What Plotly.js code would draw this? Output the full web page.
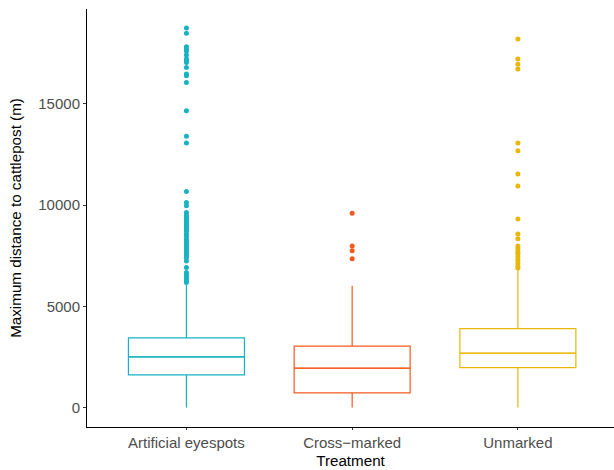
<!DOCTYPE html>
<html><head><meta charset="utf-8">
<script src="https://cdn.plot.ly/plotly-3.0.1.min.js"></script>
<style>html,body{margin:0;padding:0;background:#fff}#chart{width:614px;height:470px}</style>
</head><body><div id="chart"></div>
<script>
const categories = ["Artificial eyespots", "Cross\u2212marked", "Unmarked"];
const colors = ["#17B3C3", "#F7581E", "#E9B709"];
const q1 = [1628, 740, 1990];
const medians = [2516, 1958, 2700];
const q3 = [3453, 3044, 3912];
const lowerFence = [20, 20, 20];
const upperFence = [6100, 6020, 6820];
const outliersEyespots = [18730, 18470, 17810, 17700, 17600, 17400, 17210, 17100, 17030, 16790, 16460, 16380, 16050, 14650, 13400, 13060, 10670, 10130, 9970, 9640, 9500, 9400, 9300, 9200, 9100, 9000, 8900, 8800, 8730, 8580, 8450, 8300, 8200, 8100, 8000, 7900, 7800, 7700, 7600, 7500, 7400, 7250, 6920, 6680, 6550, 6420, 6300, 6180];
const outliersCross = [9600, 7990, 7750, 7350];
const outliersUnmarked = [18190, 17200, 16950, 16710, 13060, 12680, 11540, 10940, 9310, 8570, 8340, 7990, 7850, 7700, 7600, 7450, 7300, 7150, 7000, 6900];
const yTicks = [0, 5000, 10000, 15000];

const outliers = [outliersEyespots, outliersCross, outliersUnmarked];
const traces = [];
categories.forEach((c, i) => {
  traces.push({
    type: "box", x: [c], q1: [q1[i]], median: [medians[i]], q3: [q3[i]],
    lowerfence: [lowerFence[i]], upperfence: [upperFence[i]],
    boxpoints: false, whiskerwidth: 0, width: 0.7,
    line: {color: colors[i], width: 1.2}, fillcolor: "rgba(255,255,255,0)",
    hoverinfo: "skip", showlegend: false
  });
  // thicker median line (ggplot fatten)
  traces.push({
    type: "box", x: [c], q1: [medians[i]], median: [medians[i]], q3: [medians[i]],
    lowerfence: [medians[i]], upperfence: [medians[i]],
    boxpoints: false, whiskerwidth: 0, width: 0.7,
    line: {color: colors[i], width: 1.1}, fillcolor: "rgba(255,255,255,0)",
    hoverinfo: "skip", showlegend: false
  });
  traces.push({
    type: "scatter", mode: "markers", x: outliers[i].map(() => c), y: outliers[i],
    marker: {color: colors[i], size: 5}, showlegend: false, hoverinfo: "skip"
  });
});

const layout = {
  width: 614, height: 470,
  margin: {l: 87, r: 0, t: 9, b: 43},
  paper_bgcolor: "#fff", plot_bgcolor: "#fff",
  font: {family: "Liberation Sans, Arial, sans-serif", size: 15, color: "#000"},
  showlegend: false, boxmode: "overlay",
  xaxis: {
    type: "category", categoryarray: categories, range: [-0.6, 2.58],
    showgrid: false, zeroline: false, showline: true, linecolor: "#000", linewidth: 1,
    ticks: "outside", ticklen: 2, tickcolor: "#333", tickwidth: 1,
    tickfont: {size: 15, color: "#4D4D4D"},
    title: {text: "Treatment", font: {size: 15.2, color: "#000"}, standoff: 5}
  },
  yaxis: {
    range: [-940, 19670], tickvals: yTicks, ticktext: yTicks.map(String),
    showgrid: false, zeroline: false, showline: true, linecolor: "#000", linewidth: 1,
    ticks: "outside", ticklen: 3, tickcolor: "#333", tickwidth: 1,
    tickfont: {size: 15, color: "#4D4D4D"},
    title: {text: "Maximum distance to cattlepost (m)", font: {size: 15.2, color: "#000"}, standoff: 12}
  }
};
Plotly.newPlot("chart", traces, layout, {staticPlot: true, displayModeBar: false});
</script></body></html>
